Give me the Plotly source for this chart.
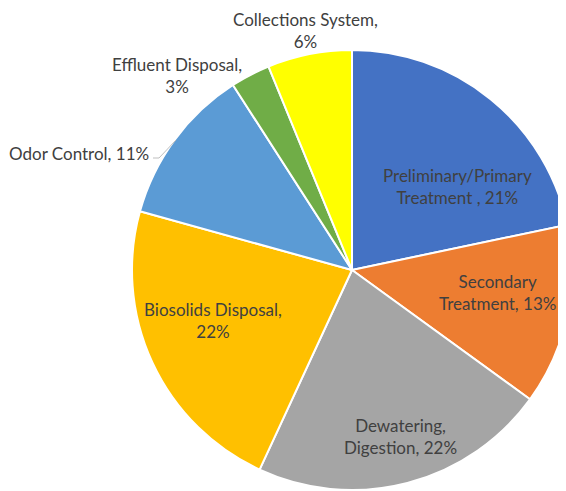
import plotly.graph_objects as go

categories = ["Preliminary/Primary Treatment", "Secondary Treatment", "Dewatering, Digestion",
              "Biosolids Disposal", "Odor Control", "Effluent Disposal", "Collections System"]
values = [21.7, 13.3, 21.9, 22.4, 11.6, 2.9, 6.2]
label_texts = ["Preliminary/Primary<br>Treatment , 21%", "Secondary<br>Treatment, 13%",
               "Dewatering,<br>Digestion, 22%", "Biosolids Disposal,<br>22%",
               "Odor Control, 11%", "Effluent Disposal,<br>3%", "Collections System,<br>6%"]
colors = ["#4472C4", "#ED7D31", "#A5A5A5", "#FFC000", "#5B9BD5", "#70AD47", "#FFFF00"]

W, H = 566, 491
OFF = 8  # page body margin offset
cx, cy, r = 352, 270, 220

def px(x):
    return (x - OFF) / W

def py(y):
    return 1 - (y - OFF) / H

fig = go.Figure(go.Pie(
    labels=categories, values=values, sort=False, direction="clockwise", rotation=0,
    marker=dict(colors=colors, line=dict(color="white", width=2)),
    textinfo="none", hoverinfo="label+percent", showlegend=False,
    domain=dict(x=[px(cx - r), px(cx + r)], y=[py(cy + r), py(cy - r)]),
))

# label positions (screen pixel) for each slice
label_pos = [(457, 186, "center"), (497, 292, "center"), (400, 436, "center"),
             (213, 320, "center"), (151, 153, "right"), (177, 75, "center"), (305, 31, "center")]
annotations = []
for txt, (x, y, anc) in zip(label_texts, label_pos):
    annotations.append(dict(text=txt, x=px(x), y=py(y), xref="paper", yref="paper",
                            showarrow=False, xanchor=anc, yanchor="middle",
                            font=dict(family="Lato", size=17, color="#404040")))

fig.update_layout(
    width=W, height=H, margin=dict(l=0, r=0, t=0, b=0),
    paper_bgcolor="white", plot_bgcolor="white",
    annotations=annotations,
    shapes=[dict(type="path", xref="paper", yref="paper",
                 path=f"M {px(153)},{py(158)} L {px(159)},{py(158)} L {px(176)},{py(140)}",
                 line=dict(color="#BFBFBF", width=1))],
)

fig.write_html("out.html")
